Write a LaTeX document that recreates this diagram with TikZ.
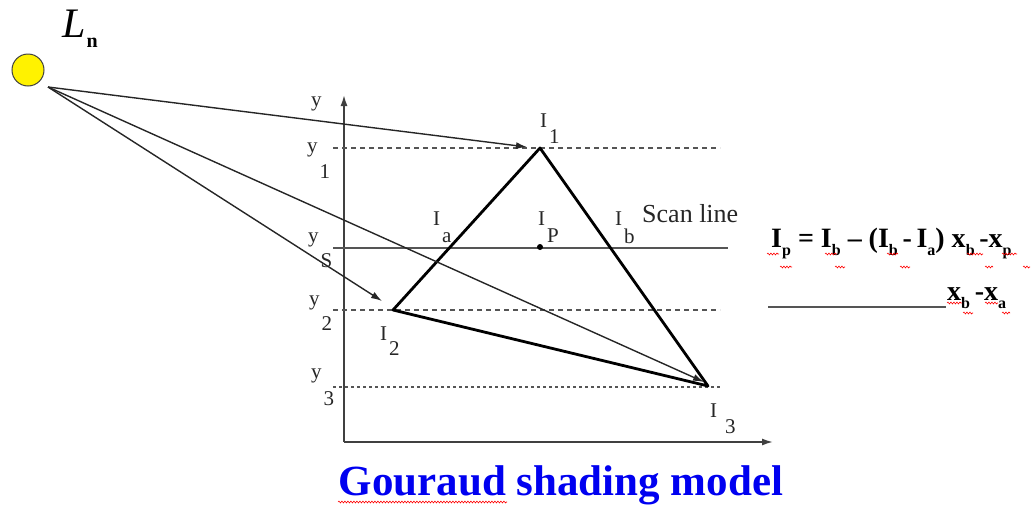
\documentclass[tikz,border=0pt]{standalone}
\usepackage{fontspec}
\setmainfont{Liberation Serif}
\usepackage{xcolor}
\usetikzlibrary{arrows.meta,decorations.pathmorphing}
\definecolor{TitleBlue}{RGB}{0,0,240}
\definecolor{LineGray}{RGB}{85,85,85}
\newcommand{\sublbl}[3]{#2\kern2pt\raisebox{-#1}{#3}}
\newcommand{\fsub}[1]{\raisebox{-8pt}{\fontsize{16}{16}\selectfont #1}}

\begin{document}
\begin{tikzpicture}[
  x=1pt, y=-1pt,
  lbl/.style={font=\fontsize{21}{24}\selectfont, text=black!85, inner sep=0pt, anchor=base west},
  ray/.style={-{Latex[length=11pt,width=7pt]}, line width=1.4pt, draw=black!85},
  axis/.style={-{Latex[length=11pt,width=7pt]}, line width=1.6pt, draw=black!75},
  level/.style={draw=LineGray, line width=1.3pt, dash pattern=on 5pt off 4pt},
  dotlevel/.style={draw=LineGray, line width=1.8pt, dash pattern=on 3pt off 3pt},
  tri/.style={draw=black, line width=2.8pt, line join=round},
  formula/.style={font=\fontsize{28}{32}\selectfont\bfseries, inner sep=0pt, anchor=base west},
  spell/.style={draw=red, line width=0.6pt, decorate, decoration={snake, amplitude=0.9pt, segment length=3pt}}
]
\useasboundingbox (0,0) rectangle (1036,509);

% light source
\node[circle, draw=black!75, fill=yellow, line width=1pt, minimum size=32pt, inner sep=0pt] (light) at (28,70) {};
\node[inner sep=0pt, anchor=base west] (lname) at (62,37) {\fontsize{42}{42}\selectfont\itshape L\kern1pt\raisebox{-10pt}{\upshape\bfseries\fontsize{20}{20}\selectfont n}};
\coordinate (src) at (48,87);

% axes
\coordinate (origin) at (344,442);
\coordinate (ytop) at (344,95);
\coordinate (xend) at (773,442);
\draw[axis] (origin) -- (ytop);
\draw[axis] (origin) -- (xend);

% levels
\draw[level] (333,148) -- (720,148);
\draw[draw=LineGray, line width=1.3pt] (333,248) -- (728,248);
\draw[level] (333,310) -- (720,310);
\draw[dotlevel] (333,387) -- (722,387);

% triangle
\coordinate (v1) at (540,148);
\coordinate (v2) at (393,310);
\coordinate (v3) at (708,386);
\draw[tri] (v1) -- (v2) -- (v3) -- cycle;

% rays
\coordinate (t1) at (527,147);
\coordinate (t2) at (382,301);
\coordinate (t3) at (704,382);
\draw[ray] (src) -- (t1);
\draw[ray] (src) -- (t2);
\draw[ray] (src) -- (t3);

% axis labels
\node[lbl] (yaxis) at (311,106) {y};
\node[lbl] (y1) at (307,152) {\sublbl{26pt}{y}{1}};
\node[lbl] (ys) at (308,242) {\sublbl{25pt}{y}{S}};
\node[lbl] (y2) at (309,305) {\sublbl{25pt}{y}{2}};
\node[lbl] (y3) at (311,378) {\sublbl{27pt}{y}{3}};

% intensity labels
\node[lbl] (i1) at (540,127) {\sublbl{16pt}{I}{1}};
\node[lbl] (ia) at (433,225) {\sublbl{17pt}{I}{a}};
\node[lbl] (ip) at (538,225) {\sublbl{17pt}{I}{P}};
\node[lbl] (ib) at (615,225) {\sublbl{18pt}{I}{b}};
\node[lbl] (i2) at (380,340) {\sublbl{15pt}{I}{2}};
\node[lbl] (i3) at (710,417) {\sublbl{16pt}{I}{\kern6pt 3}};
\node[circle, fill=black, inner sep=0pt, minimum size=6pt] (pdot) at (540,247) {};
\node[font=\fontsize{26}{30}\selectfont, text=black!85, inner sep=0pt, anchor=base west] (scan) at (642,222) {Scan line};

% formula
\node[formula] (fline) at (771,247) {I\fsub{p} = I\fsub{b} -- (I\fsub{b}\,-\,I\fsub{a}) x\fsub{b}\,-x\fsub{p}};
\node[formula] (fden) at (947,300) {x\fsub{b}\,-x\fsub{a}};
\draw[draw=LineGray, line width=1.3pt] (768,307) -- (946,307);

% spelling marks
\draw[spell] (767,254) -- (779,254);
\draw[spell] (780,267) -- (792,267);
\draw[spell] (825,254) -- (837,254);
\draw[spell] (835,267) -- (845,267);
\draw[spell] (887,254) -- (898,254);
\draw[spell] (900,267) -- (910,267);
\draw[spell] (967,254) -- (983,254);
\draw[spell] (985,267) -- (993,267);
\draw[spell] (1002,254) -- (1017,254);
\draw[spell] (1023,267) -- (1030,267);
\draw[spell] (947,303) -- (962,303);
\draw[spell] (963,313) -- (973,313);
\draw[spell] (985,303) -- (998,303);
\draw[spell] (1002,313) -- (1010,313);

% title
\node[font=\fontsize{43}{48}\selectfont\bfseries, text=TitleBlue, inner sep=0pt, anchor=base] (title) at (561,495) {Gouraud shading model};
\draw[spell] (338,502) -- (507,502);
\end{tikzpicture}
\end{document}
